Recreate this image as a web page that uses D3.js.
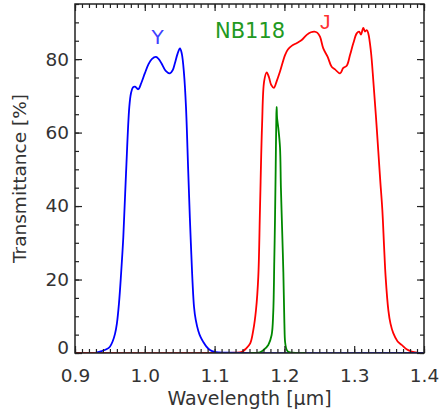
<!DOCTYPE html>
<html>
<head>
<meta charset="utf-8">
<script src="https://cdn.jsdelivr.net/npm/d3@7"></script>
<style>
  html, body { margin: 0; padding: 0; background: #fff; }
  svg { display: block; }
  text { font-family: "DejaVu Sans", sans-serif; fill: #333; }
</style>
</head>
<body>
<svg id="chart" width="440" height="419"></svg>
<script>
// ---- data ----
const yWave  = [0.93, 0.938, 0.945, 0.950, 0.954, 0.9573, 0.960, 0.963, 0.966, 0.9692, 0.9731, 0.9778, 0.9802, 0.983, 0.986, 0.9905, 0.995, 1.000, 1.005, 1.010, 1.016, 1.020, 1.024, 1.030, 1.036, 1.040, 1.043, 1.047, 1.0504, 1.053, 1.0562, 1.059, 1.0623, 1.0658, 1.0705, 1.073, 1.0767, 1.080, 1.0838, 1.088, 1.0934, 1.100, 1.120, 1.400];
const yTrans = [0.1, 0.5, 1.0, 1.7, 3.2, 5.2, 8.0, 13.5, 21.5, 31.5, 48.9, 67, 70.7, 72.3, 72.5, 71.8, 73.5, 76.1, 78.5, 80.0, 80.6, 80.0, 78.8, 76.8, 76.1, 77.0, 78.8, 81.5, 82.9, 81.5, 76, 67, 49, 30.8, 12.6, 9, 6.0, 4.3, 3.0, 1.8, 0.8, 0.3, 0.1, 0];

const jWave  = [0.90, 1.10, 1.13, 1.139, 1.145, 1.151, 1.1555, 1.1593, 1.1626, 1.165, 1.168, 1.171, 1.1746, 1.178, 1.181, 1.185, 1.189, 1.1937, 1.2009, 1.205, 1.2104, 1.218, 1.2248, 1.232, 1.238, 1.2429, 1.247, 1.251, 1.2557, 1.262, 1.2677, 1.2725, 1.2797, 1.2844, 1.2893, 1.294, 1.2987, 1.3036, 1.307, 1.3097, 1.313, 1.3155, 1.318, 1.3202, 1.324, 1.3275, 1.331, 1.3345, 1.3373, 1.3403, 1.3428, 1.345, 1.3489, 1.352, 1.356, 1.362, 1.368, 1.375, 1.3824, 1.39];
const jTrans = [0, 0, 0.1, 0.3, 1.2, 2.6, 6.3, 11.7, 20.8, 39, 62, 74, 76.4, 75, 73, 72.2, 74, 76.6, 81.1, 82.6, 83.6, 84.4, 85.2, 86.6, 87.3, 87.5, 87.2, 86.1, 82.9, 80.6, 77.9, 77.2, 76.1, 77.6, 78.2, 81.1, 84.3, 87.0, 87.5, 86.7, 88.5, 87.5, 87.9, 87.0, 82, 73.8, 64.8, 55, 47, 39, 29, 20.8, 11.7, 8, 5.4, 3.2, 2.2, 1.0, 0.4, 0.1];

const nbWave  = [1.150, 1.165, 1.170, 1.1769, 1.1817, 1.184, 1.1855, 1.1865, 1.1875, 1.1885, 1.1889, 1.1895, 1.1913, 1.1937, 1.195, 1.197, 1.1985, 1.200, 1.201, 1.203, 1.2056, 1.230];
const nbTrans = [0, 0.2, 0.8, 2.2, 4.9, 11, 25, 36, 50, 65, 67, 64, 61.2, 56, 45, 32, 22, 8, 3, 1, 0.3, 0];

const xTicks = [0.9, 1.0, 1.1, 1.2, 1.3, 1.4];
const yTicks = [0, 20, 40, 60, 80];
const xMinor = d3.range(90, 141).map(d => d / 100);
const yMinor = d3.range(0, 96, 5);

const series = [
  { name: "J", wave: jWave, trans: jTrans, color: "#ff0000" },
  { name: "Y", wave: yWave, trans: yTrans, color: "#0000ff" },
  { name: "NB118", wave: nbWave, trans: nbTrans, color: "#008800" }
];
const labels = [
  { text: "Y", x: 1.0185, y: 84, color: "#4040ff", size: 20, font: "DejaVu Sans" },
  { text: "NB118", x: 1.1005, y: 85.8, color: "#229922", size: 21, font: "DejaVu Sans" },
  { text: "J", x: 1.2584, y: 88.1, color: "#ff3030", size: 21, font: "Liberation Sans" }
];

// ---- layout ----
const m = { left: 75, right: 16, top: 4, bottom: 66 };
const W = 440, H = 419;
const svg = d3.select("#chart");
const x = d3.scaleLinear().domain([0.9, 1.4]).range([m.left, W - m.right]);
const y = d3.scaleLinear().domain([0, 95]).range([H - m.bottom, m.top]);

svg.append("defs").append("clipPath").attr("id", "clip")
  .append("rect").attr("x", x(0.9)).attr("y", y(95))
  .attr("width", x(1.4) - x(0.9)).attr("height", y(0) - y(95));

// curves
const line = d3.line().x(d => x(d[0])).y(d => y(d[1])).curve(d3.curveCatmullRom.alpha(0.5));
const g = svg.append("g").attr("clip-path", "url(#clip)");
series.forEach(s => {
  g.append("path")
    .datum(s.wave.map((w, i) => [w, s.trans[i]]))
    .attr("d", line).attr("fill", "none")
    .attr("stroke", s.color).attr("stroke-width", 1.8)
    .attr("stroke-linejoin", "round");
});

// axes (inward ticks)
function styleAxis(sel) {
  sel.select(".domain").remove();
  sel.selectAll("line").attr("stroke", "#222").attr("stroke-width", 1.2);
}
const axColor = "#333";
// bottom
svg.append("g").attr("transform", `translate(0,${y(0)})`)
  .call(d3.axisBottom(x).tickValues(xMinor).tickSize(-4).tickFormat("")).call(styleAxis);
const bx = svg.append("g").attr("transform", `translate(0,${y(0)})`)
  .call(d3.axisBottom(x).tickValues(xTicks).tickSize(-7).tickPadding(16).tickFormat(d3.format(".1f")))
  .call(styleAxis);
bx.selectAll("text").style("font-size", "18.5px").style("fill", axColor).style("font-family", "DejaVu Sans");
// top
svg.append("g").attr("transform", `translate(0,${y(95)})`)
  .call(d3.axisTop(x).tickValues(xMinor).tickSize(-4).tickFormat("")).call(styleAxis);
svg.append("g").attr("transform", `translate(0,${y(95)})`)
  .call(d3.axisTop(x).tickValues(xTicks).tickSize(-7).tickFormat("")).call(styleAxis);
// left
svg.append("g").attr("transform", `translate(${x(0.9)},0)`)
  .call(d3.axisLeft(y).tickValues(yMinor).tickSize(-4).tickFormat("")).call(styleAxis);
const ly = svg.append("g").attr("transform", `translate(${x(0.9)},0)`)
  .call(d3.axisLeft(y).tickValues(yTicks).tickSize(-7).tickPadding(6).tickFormat(d3.format("d")))
  .call(styleAxis);
ly.selectAll("text").style("font-size", "18.5px").style("fill", axColor).style("font-family", "DejaVu Sans")
  .attr("dy", d => d === 0 ? "0.02em" : "0.32em");
// right
svg.append("g").attr("transform", `translate(${x(1.4)},0)`)
  .call(d3.axisRight(y).tickValues(yMinor).tickSize(-4).tickFormat("")).call(styleAxis);
svg.append("g").attr("transform", `translate(${x(1.4)},0)`)
  .call(d3.axisRight(y).tickValues(yTicks).tickSize(-7).tickFormat("")).call(styleAxis);

// frame
svg.append("rect").attr("x", x(0.9)).attr("y", y(95))
  .attr("width", x(1.4) - x(0.9)).attr("height", y(0) - y(95))
  .attr("fill", "none").attr("stroke", "#222").attr("stroke-width", 1.5);

// series labels
labels.forEach(l => {
  svg.append("text").attr("x", x(l.x)).attr("y", y(l.y))
    .attr("text-anchor", l.text === "NB118" ? "start" : "middle")
    .style("font-family", l.font)
    .style("font-size", l.size + "px").style("fill", l.color).text(l.text);
});

// axis titles
svg.append("text").attr("x", (x(0.9) + x(1.4)) / 2).attr("y", 405)
  .attr("text-anchor", "middle").style("font-size", "19px").style("fill", axColor)
  .text("Wavelength [μm]");
svg.append("text").attr("transform", `translate(26,${(y(0) + y(95)) / 2}) rotate(-90)`)
  .attr("text-anchor", "middle").style("font-size", "18.5px").style("fill", axColor)
  .text("Transmittance [%]");
</script>
</body>
</html>
